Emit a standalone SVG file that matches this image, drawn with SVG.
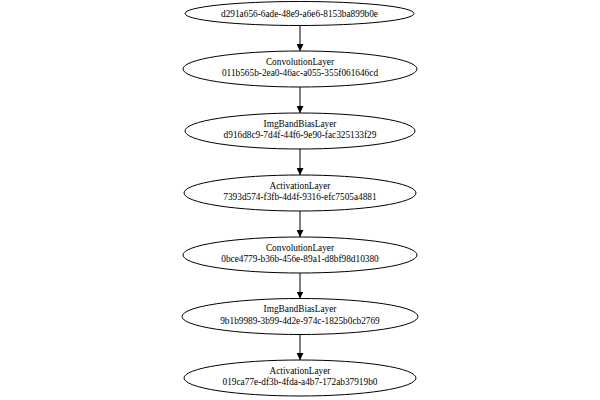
<svg xmlns="http://www.w3.org/2000/svg" width="600" height="400" viewBox="0 0 600 400">
<defs>
<style>
.n ellipse{fill:none;stroke:#000;stroke-width:1}
.n text{font-family:"Liberation Serif","Times New Roman",serif;font-size:9.3px;text-anchor:middle;fill:#000}
.e line{stroke:#000;stroke-width:1}
</style>
<marker id="ah" viewBox="0 0 10 10" refX="10" refY="5" markerWidth="7" markerHeight="7" markerUnits="userSpaceOnUse" orient="auto">
<path d="M0,0 L10,5 L0,10 Z" fill="#000"/>
</marker>
</defs>
<rect width="600" height="400" fill="#fff"/>
<g class="e">
<line x1="300" y1="25.5" x2="300" y2="51" marker-end="url(#ah)"/>
<line x1="300" y1="87" x2="300" y2="113" marker-end="url(#ah)"/>
<line x1="300" y1="149" x2="300" y2="175" marker-end="url(#ah)"/>
<line x1="300" y1="211" x2="300" y2="237" marker-end="url(#ah)"/>
<line x1="300" y1="273" x2="300" y2="298.5" marker-end="url(#ah)"/>
<line x1="300" y1="334.5" x2="300" y2="360" marker-end="url(#ah)"/>
</g>
<g id="n1" class="n"><ellipse cx="299.5" cy="13.5" rx="114.5" ry="12"/><text x="299.5" y="17">d291a656-6ade-48e9-a6e6-8153ba899b0e</text></g>
<g id="n2" class="n"><ellipse cx="300" cy="69" rx="117" ry="18"/><text x="300" y="64.5">ConvolutionLayer</text><text x="300" y="76">011b565b-2ea0-46ac-a055-355f061646cd</text></g>
<g id="n3" class="n"><ellipse cx="300" cy="131" rx="115" ry="18"/><text x="300" y="126.5">ImgBandBiasLayer</text><text x="300" y="138">d916d8c9-7d4f-44f6-9e90-fac325133f29</text></g>
<g id="n4" class="n"><ellipse cx="300" cy="193" rx="116" ry="18"/><text x="300" y="188.5">ActivationLayer</text><text x="300" y="200">7393d574-f3fb-4d4f-9316-efc7505a4881</text></g>
<g id="n5" class="n"><ellipse cx="300" cy="255" rx="117" ry="18"/><text x="300" y="250.5">ConvolutionLayer</text><text x="300" y="262">0bce4779-b36b-456e-89a1-d8bf98d10380</text></g>
<g id="n6" class="n"><ellipse cx="300" cy="316.5" rx="118" ry="18"/><text x="300" y="312">ImgBandBiasLayer</text><text x="300" y="323.5">9b1b9989-3b99-4d2e-974c-1825b0cb2769</text></g>
<g id="n7" class="n"><ellipse cx="300" cy="378" rx="116" ry="18"/><text x="300" y="373.5">ActivationLayer</text><text x="300" y="385">019ca77e-df3b-4fda-a4b7-172ab37919b0</text></g>
</svg>
